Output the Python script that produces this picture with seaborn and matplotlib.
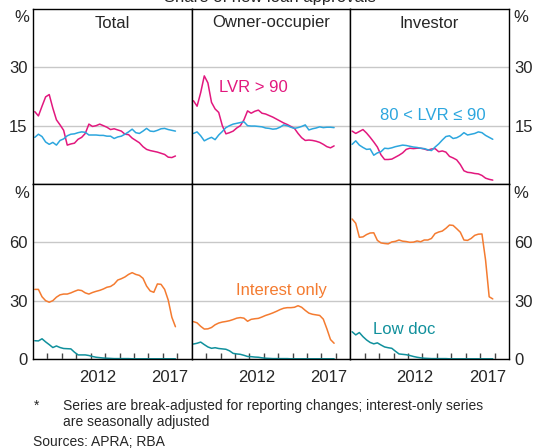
import matplotlib.pyplot as plt
import numpy as np
import pandas as pd
import seaborn as sns

# quarterly observations, 2008 Q1 to 2017 Q4 (mid-quarter, decimal years)
quarters = 2008.125 + 0.25 * np.arange(40)

# LVR > 90 share (%)
total_lvr90 = [18.6, 17.5, 20.0, 22.4, 23.0, 19.5, 16.5, 15.2, 13.8, 10.0,
               10.3, 10.5, 11.5, 12.0, 13.0, 15.4, 14.8, 15.0, 15.4, 15.0,
               14.6, 14.0, 14.2, 13.9, 13.6, 12.8, 12.7, 11.8, 11.2, 10.6,
               9.6, 8.9, 8.6, 8.4, 8.2, 7.9, 7.6, 6.9, 6.8, 7.2]
owner_lvr90 = [21.4, 20.0, 23.5, 27.8, 26.0, 21.0, 19.3, 18.4, 15.0, 12.9,
               13.2, 13.6, 14.4, 15.0, 16.5, 18.8, 18.2, 18.7, 19.0, 18.2,
               18.0, 17.6, 17.2, 16.7, 16.2, 15.7, 15.3, 14.8, 14.3, 13.0,
               11.9, 11.2, 11.3, 11.2, 11.0, 10.7, 10.2, 9.6, 9.3, 9.8]
investor_lvr90 = [13.6, 13.0, 13.5, 14.0, 13.1, 12.0, 10.8, 9.5, 7.5, 6.3,
                  6.3, 6.4, 6.9, 7.4, 8.0, 8.9, 9.2, 9.1, 9.2, 9.2,
                  9.0, 8.7, 9.0, 9.1, 8.3, 8.5, 8.2, 7.1, 6.7, 6.2,
                  5.0, 3.4, 3.0, 2.9, 2.7, 2.6, 2.2, 1.5, 1.2, 1.0]

# 80 < LVR <= 90 share (%)
total_lvr80 = [12.0, 12.8, 12.2, 10.8, 10.2, 10.7, 10.0, 11.2, 11.6, 12.4,
               12.8, 12.9, 13.2, 13.4, 13.3, 12.6, 12.6, 12.6, 12.5, 12.5,
               12.3, 12.3, 11.7, 12.1, 12.3, 12.8, 13.4, 14.1, 13.2, 13.0,
               13.6, 14.3, 13.6, 13.5, 13.8, 14.2, 14.3, 14.0, 13.8, 13.6]
owner_lvr80 = [13.0, 13.4, 12.4, 11.1, 11.6, 12.0, 11.4, 12.6, 13.5, 14.5,
               15.0, 15.4, 15.6, 15.8, 16.0, 15.0, 14.9, 14.9, 14.8, 14.7,
               14.4, 14.3, 14.1, 14.2, 14.6, 15.2, 15.0, 14.6, 14.3, 14.5,
               14.8, 15.2, 13.9, 14.2, 14.4, 14.7, 14.5, 14.6, 14.6, 14.5]
investor_lvr80 = [10.2, 11.1, 10.0, 9.4, 8.9, 9.0, 7.4, 8.0, 8.3, 9.2,
                  9.1, 9.3, 9.6, 9.8, 10.0, 9.9, 9.7, 9.5, 9.4, 9.2,
                  9.1, 8.8, 8.6, 9.5, 10.3, 11.3, 12.2, 12.4, 11.7, 11.9,
                  12.4, 13.2, 12.6, 12.8, 13.0, 13.4, 13.2, 12.5, 12.0, 11.5]

# interest-only share (%)
total_io = [35.8, 35.8, 32.0, 30.0, 29.2, 30.0, 31.8, 33.0, 33.4, 33.4,
            34.0, 34.8, 35.5, 35.2, 34.0, 33.4, 34.2, 34.8, 35.3, 36.0,
            36.9, 37.3, 38.5, 40.6, 41.3, 42.2, 43.5, 44.4, 43.5, 43.0,
            41.5, 37.5, 35.0, 34.3, 38.6, 38.4, 35.8, 30.3, 21.5, 16.6]
owner_io = [19.2, 18.6, 16.8, 15.4, 15.5, 16.2, 17.6, 18.5, 19.0, 19.3,
            19.7, 20.3, 21.0, 21.3, 21.0, 19.4, 20.4, 20.7, 20.9, 21.6,
            22.4, 23.0, 23.7, 24.5, 25.4, 26.1, 26.4, 26.4, 26.6, 27.4,
            26.6, 25.0, 23.6, 23.0, 22.7, 22.4, 20.5, 15.5, 10.0, 8.1]
investor_io = [72.0, 69.8, 62.6, 62.8, 64.0, 64.8, 64.9, 61.0, 59.7, 59.4,
               59.2, 60.2, 60.5, 61.2, 60.6, 60.4, 60.0, 60.1, 60.7, 60.3,
               61.2, 61.2, 62.0, 64.5, 65.3, 65.8, 67.2, 68.9, 68.7, 67.0,
               65.2, 61.2, 61.0, 62.0, 63.6, 64.2, 64.3, 50.9, 32.0, 30.9]

# low-doc share (%)
total_lowdoc = [9.4, 9.3, 10.4, 8.8, 7.4, 5.9, 6.7, 5.9, 5.4, 5.3,
                5.2, 3.5, 2.1, 2.1, 2.1, 1.8, 1.3, 0.9, 0.7, 0.5,
                0.4, 0.3, 0.2, 0.2, 0.2, 0.2, 0.2, 0.1, 0.1, 0.1,
                0.1, 0.1, 0.1, 0.1, 0.1, 0.1, 0.1, 0.1, 0.1, 0.1]
owner_lowdoc = [7.7, 8.1, 8.7, 7.4, 6.2, 5.5, 5.8, 5.4, 5.2, 5.0,
                4.2, 2.9, 2.6, 2.4, 1.9, 1.3, 1.2, 1.0, 0.9, 0.6,
                0.4, 0.3, 0.2, 0.2, 0.2, 0.2, 0.2, 0.1, 0.1, 0.1,
                0.1, 0.1, 0.1, 0.1, 0.1, 0.1, 0.1, 0.1, 0.1, 0.1]
investor_lowdoc = [14.0, 12.4, 13.6, 11.5, 9.8, 8.5, 7.8, 8.3, 7.2, 6.2,
                   5.8, 5.5, 4.0, 2.6, 2.4, 2.2, 1.8, 1.3, 0.9, 0.6,
                   0.4, 0.3, 0.2, 0.2, 0.2, 0.2, 0.2, 0.1, 0.1, 0.1,
                   0.1, 0.1, 0.1, 0.1, 0.1, 0.1, 0.1, 0.1, 0.1, 0.1]

panels = ["Total", "Owner-occupier", "Investor"]
lvr_series = {
    "LVR > 90": [total_lvr90, owner_lvr90, investor_lvr90],
    "80 < LVR ≤ 90": [total_lvr80, owner_lvr80, investor_lvr80],
}
io_series = {
    "Interest only": [total_io, owner_io, investor_io],
    "Low doc": [total_lowdoc, owner_lowdoc, investor_lowdoc],
}

colors = {
    "LVR > 90": "#E2187E",
    "80 < LVR ≤ 90": "#2CA6DE",
    "Interest only": "#F47B30",
    "Low doc": "#10909C",
}


def long_frame(series):
    rows = []
    for name, vals in series.items():
        for p, v in zip(panels, vals):
            rows.append(pd.DataFrame({"date": quarters, "value": v,
                                      "series": name, "panel": p}))
    return pd.concat(rows, ignore_index=True)


lvr_df = long_frame(lvr_series)
io_df = long_frame(io_series)

sns.set_theme(style="white")
plt.rcParams["font.family"] = ["Liberation Sans", "DejaVu Sans"]
plt.rcParams["font.size"] = 12

fig, axes = plt.subplots(2, 3, figsize=(5.4, 4.48), dpi=100,
                         gridspec_kw=dict(hspace=0, wspace=0))
fig.subplots_adjust(left=33 / 540, right=509 / 540,
                    top=1 - 9 / 448, bottom=1 - 359 / 448)

for row, (df, ymax, yt) in enumerate([(lvr_df, 45, [15, 30]),
                                       (io_df, 90, [0, 30, 60])]):
    for col, p in enumerate(panels):
        ax = axes[row, col]
        sub = df[df["panel"] == p]
        sns.lineplot(data=sub, x="date", y="value", hue="series",
                     palette=colors, legend=False, lw=1.1, ax=ax)
        ax.set_xlim(2008, 2019)
        ax.set_ylim(0, ymax)
        ax.set_xlabel("")
        ax.set_ylabel("")
        ax.set_yticks(yt)
        ax.yaxis.grid(True, color="#c8c8c8", lw=1)
        ax.set_axisbelow(True)
        for s in ax.spines.values():
            s.set_color("black")
            s.set_linewidth(1)
        ax.tick_params(axis="y", length=0, pad=4, labelsize=12,
                       labelleft=(col == 0), labelright=(col == 2))
        if col == 0:
            ax.text(-0.025, 1 - 9 / 175, "%", transform=ax.transAxes,
                    ha="right", va="center", fontsize=12)
        if col == 2:
            ax.text(1.025, 1 - 9 / 175, "%", transform=ax.transAxes,
                    ha="left", va="center", fontsize=12)
        if row == 0:
            ax.set_xticks([])
            ax.text(0.5, 1 - 14 / 175, p, transform=ax.transAxes,
                    ha="center", va="center", fontsize=12)
        else:
            ax.set_xticks(range(2009, 2019))
            ax.set_xticks([2012.5, 2017.5], minor=True)
            ax.set_xticklabels([], minor=False)
            ax.set_xticklabels(["2012", "2017"], minor=True)
            ax.tick_params(axis="x", which="major", direction="in",
                           length=4.5, width=1, color="#444444", bottom=True)
            ax.tick_params(axis="x", which="minor", length=0, pad=8,
                           labelsize=12, bottom=True)

# series labels
axes[0, 1].text(2009.9, 24.9, "LVR > 90", color=colors["LVR > 90"],
                ha="left", va="center", fontsize=12)
axes[0, 2].text(2013.7, 17.6, "80 < LVR ≤ 90", color=colors["80 < LVR ≤ 90"],
                ha="center", va="center", fontsize=12)
axes[1, 1].text(2014.25, 35, "Interest only", color=colors["Interest only"],
                ha="center", va="center", fontsize=12)
axes[1, 2].text(2009.55, 15.4, "Low doc", color=colors["Low doc"],
                ha="left", va="center", fontsize=12)

# title sits mostly above the canvas, as in the source image
fig.text(0.5, 1 - 2 / 448, "Share of new loan approvals", ha="center",
         va="baseline", fontsize=12)
fig.text(34 / 540, 1 - 406 / 448, "*", ha="left", va="center", fontsize=10)
fig.text(63 / 540, 1 - 406 / 448,
         "Series are break-adjusted for reporting changes; interest-only series",
         ha="left", va="center", fontsize=10)
fig.text(63 / 540, 1 - 422 / 448, "are seasonally adjusted",
         ha="left", va="center", fontsize=10)
fig.text(33 / 540, 1 - 442 / 448, "Sources: APRA; RBA",
         ha="left", va="center", fontsize=10)

fig.savefig("out.png", dpi=100)
